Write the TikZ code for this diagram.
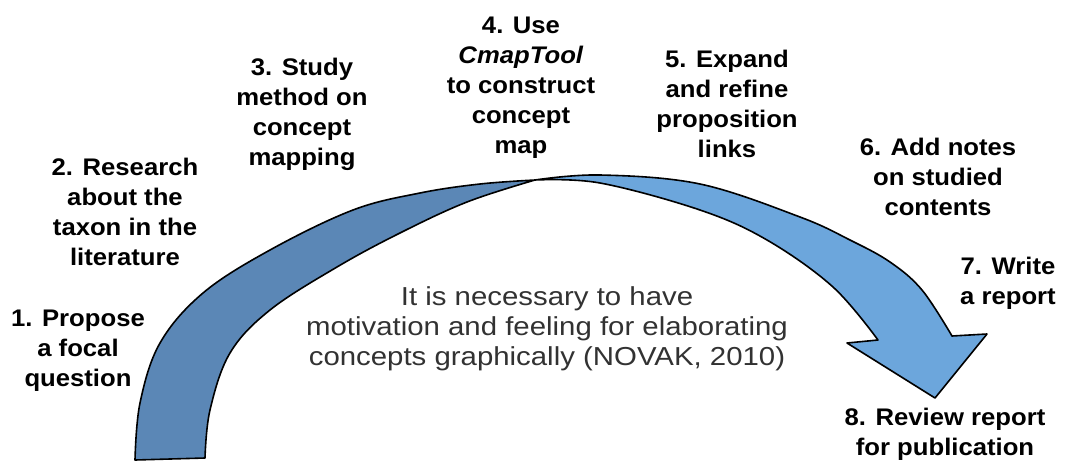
\documentclass[tikz,border=0pt]{standalone}
\usepackage{fontspec}
\setmainfont{Liberation Sans}
\newfontfamily\labelfont[FakeStretch=1.07]{Liberation Sans}
\newfontfamily\notefont[FakeStretch=1.13]{Liberation Sans}
\definecolor{banddark}{RGB}{91,135,182}
\definecolor{bandlight}{RGB}{108,166,220}
\definecolor{notegray}{RGB}{50,50,50}
\begin{document}
\begin{tikzpicture}[x=1pt,y=-1pt,
  stepbox/.style={align=center,inner sep=0pt,font=\labelfont\fontsize{24}{30}\selectfont\bfseries},
  notebox/.style={align=center,inner sep=0pt,text=notegray,font=\notefont\fontsize{26}{30}\selectfont},
  band/.style={draw=black,line width=1.6pt,line join=round}]
\useasboundingbox (0,0) rectangle (1065,461);

% rising (darker) part of the ribbon
\filldraw[band,fill=banddark]
  plot[smooth,tension=0.6] coordinates {(135,460) (140,403) (160,343) (203,293) (270,250) (353,210) (420,193) (480,184) (535,180)}
  -- plot[smooth,tension=0.6] coordinates {(535,180) (467,202) (400,233) (337,267) (270,310) (230,353) (210,410) (205,458)}
  -- cycle;

% falling (lighter) part of the ribbon with the arrow head
\filldraw[band,fill=bandlight]
  plot[smooth,tension=0.6] coordinates {(535,180) (600,175) (700,184) (800,217) (850,240) (890,262) (922,290) (952,336)}
  -- (987,334) -- (935,398) -- (847,343) --
  plot[smooth,tension=0.6] coordinates {(878,340) (833,287) (767,240) (700,210) (600,183) (535,180)}
  -- cycle;

% step labels
\node[stepbox] (s1) at (78,351) {1. Propose\\a focal\\question};
\node[stepbox] (s2) at (125,212) {2. Research\\about the\\taxon in the\\literature};
\node[stepbox] (s3) at (302,114) {3. Study\\method on\\concept\\mapping};
\node[stepbox] (s4) at (521,88) {4. Use\\\textit{CmapTool}\\to construct\\concept\\map};
\node[stepbox] (s5) at (727,104) {5. Expand\\and refine\\proposition\\links};
\node[stepbox] (s6) at (938,177) {6. Add notes\\on studied\\contents};
\node[stepbox] (s7) at (1008,283) {7. Write\\a report};
\node[stepbox] (s8) at (945,434) {8. Review report\\for publication};

% central remark
\node[notebox] (note) at (547,329) {It is necessary to have\\motivation and feeling for elaborating\\concepts graphically (NOVAK, 2010)};
\end{tikzpicture}
\end{document}
